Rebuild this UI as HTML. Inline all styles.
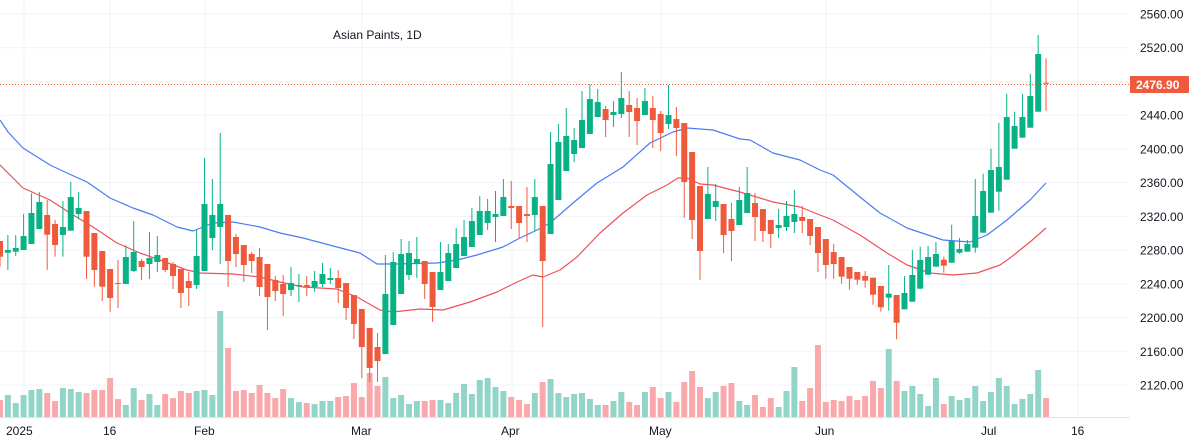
<!DOCTYPE html>
<html><head><meta charset="utf-8"><style>
html,body{margin:0;padding:0;background:#fff;}
svg{display:block;font-family:"Liberation Sans",sans-serif;}
</style></head><body>
<svg id="s" width="1192" height="440" xmlns="http://www.w3.org/2000/svg"></svg>
<script>
var S=document.getElementById('s'),h='';
// grid
for(var k=0;k<12;k++){var y=14+k*33.727;h+='<line x1="0" x2="1128" y1="'+y.toFixed(1)+'" y2="'+y.toFixed(1)+'" stroke="#f0f3fa" stroke-width="1"/>';}
[24,110,205,362,512,661,826,991,1078].forEach(function(x){h+='<line x1="'+x+'" x2="'+x+'" y1="0" y2="417" stroke="#f0f3fa"/>';});
// candles: [color, bt, bb, wt, wb] in zoom coords
var A=[['r',423,470,423,500],['g',450,458,405,510],['g',444,455,405,468],['g',408,450,342,450],['g',339,432,280,432],['g',306,387,276,387],['r',345,404,300,510],['r',372,435,360,470],['g',381,405,303,470],['g',291,392,246,392],['g',324,342,276,358],['r',333,470,333,537],['r',399,510,399,560],['r',453,560,453,603],['r',507,594,507,635],['r',549,552,480,624],['g',471,552,436,552],['g',456,513,363,516],['r',483,501,477,540],['g',474,492,396,537],['g',465,486,408,516],['r',474,510,474,516],['r',492,528,486,567],['r',507,579,507,624],['r',543,564,516,618],['g',468,555,387,567],['g',312,513,174,513],['g',345,414,237,450],['g',312,381,99,492],['r',345,483,345,561],['r',411,462,402,501],['r',435,495,435,546],['r',462,483,456,519],['r',471,561,444,588],['r',492,591,492,690],['r',540,573,528,603]];
var B=[['r',552,582,525,648],['g',549,570,501,588],['g',555,559,522,606],['r',555,562,528,588],['g',543,561,513,576],['g',522,552,489,561],['g',534,540,504,552],['r',534,564,510,609],['r',549,624,549,660],['r',585,672,585,717],['r',627,741,627,834],['r',684,804,684,846],['r',741,783,699,846],['g',582,762,465,762],['g',486,675,456,675],['g',462,582,417,582],['g',459,525,423,540],['g',477,492,411,534],['r',483,552,483,597],['r',516,621,516,666],['g',516,570,426,570],['g',459,543,432,543],['g',432,504,384,504],['g',411,468,360,468],['g',363,441,324,441],['g',333,405,288,405],['g',333,369,297,390],['g',342,351,273,426],['g',291,348,237,348],['r',318,324,243,387],['r',318,369,318,417],['r',342,348,261,426],['g',291,345,237,393],['r',318,483,318,681]];
var C=[['g',312,522,216,522],['g',246,420,192,420],['g',228,333,144,333],['g',240,282,204,306],['g',180,264,93,264],['g',117,222,72,222],['g',126,171,87,171],['r',147,180,138,231],['g',156,165,123,201],['g',114,162,36,174],['r',135,156,93,231],['r',144,183,114,255],['g',123,165,84,165],['r',144,180,108,264],['r',162,219,153,273],['g',165,192,75,207],['r',177,204,141,288],['r',189,366,189,474],['r',276,480,276,537],['r',378,573,378,660],['g',402,477,321,477],['g',423,441,372,483],['r',432,525,432,579],['r',477,513,429,603],['g',420,495,381,495],['g',399,459,321,459],['r',429,471,399,543],['r',447,513,447,546],['r',480,522,480,564],['g',495,504,447,534],['g',468,501,423,513],['g',462,486,390,519],['r',471,483,438,519],['r',477,528,477,555],['r',501,579,501,636]];
var D=[['r',657,735,657,776],['r',696,732,672,776],['r',711,770,711,791],['r',741,776,741,809],['r',756,779,756,794],['r',768,782,753,803],['r',773,824,773,854],['r',798,862,798,875],['g',821,833,735,872],['r',825,908,825,958],['g',819,868,768,868],['g',765,845,690,845],['g',720,806,680,806],['g',711,764,678,764],['g',702,740,666,740],['r',719,737,710,758],['g',663,728,614,728],['g',687,698,654,701],['g',672,695,660,695],['g',588,683,477,698],['g',513,638,461,638],['g',450,578,386,578],['g',441,515,308,572],['g',291,479,221,479],['g',318,386,275,386],['g',291,353,221,353],['g',228,323,161,323],['g',102,275,45,275],['r',188,191,115,272]];
var VA=[900,885,909,885,870,867,879,903,864,867,876,879,870,870,834,897,915,864,900,882,915,882,894,873,879,873,870,885,633,744,873,870,879,855,879,894];
var VB=[867,894,906,909,912,903,903,891,888,849,891,819,858,831,894,885,912,903,903,900,900,909,879,852,882,840,834,861,873,891,900,912,879,846];
var VC=[957,999,1011,1002,999,1017,1035,1035,1023,996,1026,1035,996,981,1014,996,1026,966,933,981,1014,996,978,969,1023,1035,1005,1041,1014,1041,993,921,1023,984,855];
var VD=[1146,1140,1143,1128,1140,1128,1083,1104,987,1083,1113,1098,1122,1158,1074,1152,1128,1140,1134,1098,1143,1116,1074,1098,1152,1137,1122,1050,1134];
var cs=[],vs=[];
function add(arr,off,v){arr.forEach(function(c,i){cs.push([c[0],off+c[1]/3,off+c[2]/3,off+c[3]/3,off+c[4]/3]);vs.push(off+v[i]/3);});}
add(A,100,VA);add(B,100,VB);add(C,60,VC);add(D,20,VD);
var vol='',can='';
cs.forEach(function(c,i){var x=7.865*i;var g=c[0]=='g';
 vol+='<rect x="'+(x-3).toFixed(2)+'" y="'+vs[i].toFixed(1)+'" width="6" height="'+(417-vs[i]).toFixed(1)+'" fill="'+(g?'#92d5c8':'#f9a9ac')+'"/>';
 var col=g?'#08b286':'#ef5a3c';
 can+='<line x1="'+x.toFixed(2)+'" x2="'+x.toFixed(2)+'" y1="'+c[3].toFixed(1)+'" y2="'+c[4].toFixed(1)+'" stroke="'+col+'" stroke-width="1"/>';
 var bh=Math.max(1,c[2]-c[1]);
 can+='<rect x="'+(x-3).toFixed(2)+'" y="'+c[1].toFixed(1)+'" width="6" height="'+bh.toFixed(1)+'" fill="'+col+'"/>';
});
h+=vol;
var blue=[[0,120],[8,132],[23,148],[50,165],[67,173],[87,182],[110,198],[133,208],[153,215],[177,227],[193,231],[213,223],[233,222],[260,227],[280,233],[303,238],[337,247],[360,253],[377,264],[397,264],[437,263],[457,260],[477,255],[503,247],[520,238],[537,230],[550,223],[573,203],[597,183],[623,167],[650,143],[673,132],[687,128],[713,130],[740,139],[750,140],[773,153],[800,160],[820,170],[833,175],[860,197],[880,213],[907,228],[943,240],[970,242],[987,235],[1007,220],[1030,200],[1046,183]];
var red=[[0,165],[23,188],[50,200],[70,213],[93,227],[117,243],[140,253],[160,260],[187,270],[200,273],[233,274],[260,277],[280,282],[303,287],[337,289],[357,297],[380,310],[393,312],[420,309],[443,310],[470,302],[497,292],[517,282],[533,275],[543,277],[560,270],[577,257],[600,233],[623,213],[647,195],[667,185],[678,178],[687,178],[700,184],[713,185],[740,192],[773,202],[800,207],[820,215],[833,220],[860,235],[887,253],[907,265],[930,273],[953,275],[977,273],[1000,265],[1010,258],[1030,242],[1046,228]];
function pl(p,c){return '<polyline fill="none" stroke="'+c+'" stroke-width="1.2" stroke-linejoin="round" points="'+p.map(function(q){return q.join(',');}).join(' ')+'"/>';}
h+=pl(blue,'#4a7cf4')+pl(red,'#f0505a');
h+=can;
h+='<line x1="0" x2="1130" y1="84.5" y2="84.5" stroke="#ef5a3c" stroke-width="1" stroke-dasharray="1,2"/>';
h+='<line x1="0" x2="1130" y1="417.5" y2="417.5" stroke="#e0e3eb"/>';
var labs=['2560.00','2520.00','2480.00','2440.00','2400.00','2360.00','2320.00','2280.00','2240.00','2200.00','2160.00','2120.00'];
labs.forEach(function(t,k){if(k==2)return;var y=14+k*33.727;h+='<text x="1140" y="'+(y+4.5).toFixed(1)+'" font-size="12" fill="#131722">'+t+'</text>';});
h+='<rect x="1130" y="76" width="59" height="17" rx="1" fill="#ef5a3c"/><text x="1136" y="89" font-size="12" font-weight="bold" fill="#fff">2476.90</text>';
[['2025',6],['16',103],['Feb',194],['Mar',351],['Apr',501],['May',649],['Jun',815],['Jul',981],['16',1071]].forEach(function(d){h+='<text x="'+d[1]+'" y="435" font-size="12" fill="#131722">'+d[0]+'</text>';});
h+='<text x="333" y="39" font-size="12" fill="#131722">Asian Paints, 1D</text>';
S.innerHTML=h;
</script>
</body></html>
